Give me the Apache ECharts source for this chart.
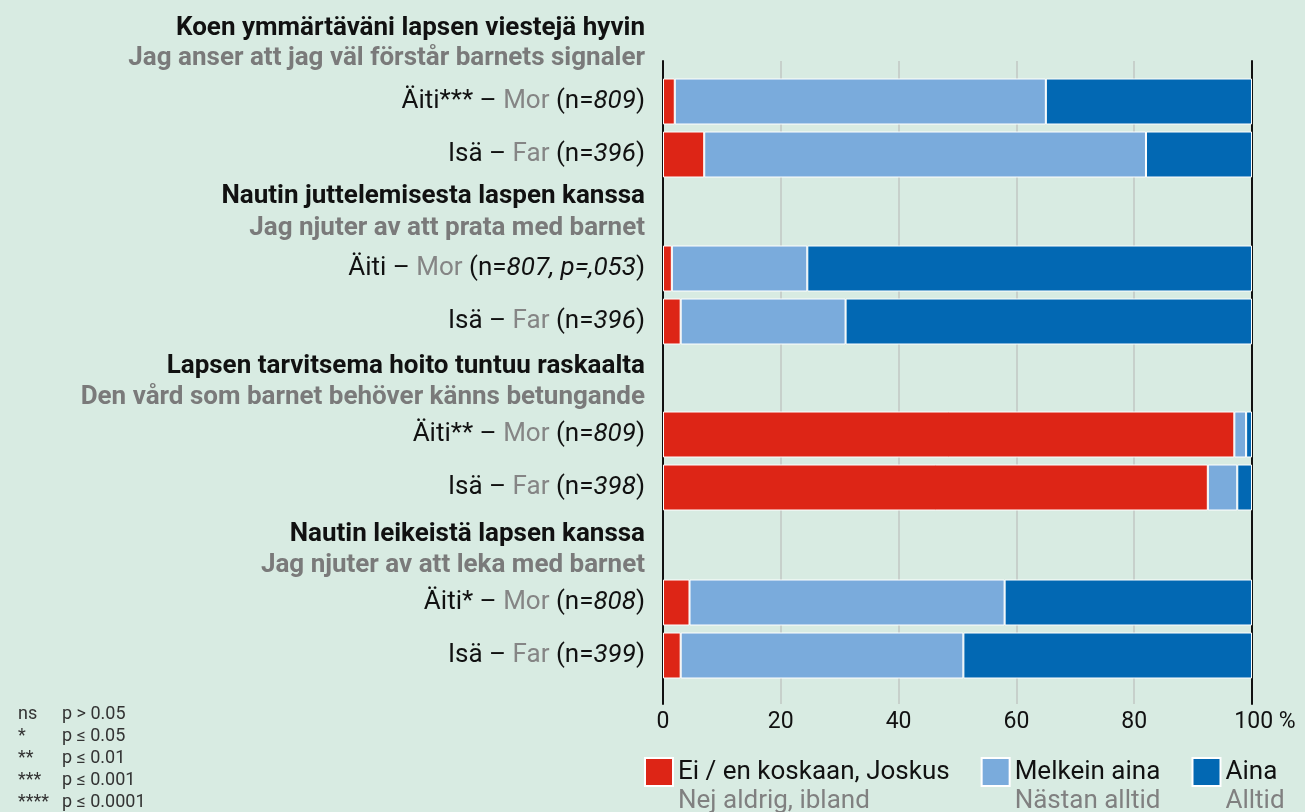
<!DOCTYPE html>
<html>
<head>
<meta charset="utf-8">
<script src="https://cdn.jsdelivr.net/npm/echarts@6/dist/echarts.min.js"></script>
<style>
  html, body { margin: 0; padding: 0; background: #d8ebe2; }
  #chart { width: 1305px; height: 812px; }
</style>
</head>
<body>
<div id="chart"></div>
<script>
const groupTitlesFi = [
  "Koen ymmärtäväni lapsen viestejä hyvin",
  "Nautin juttelemisesta laspen kanssa",
  "Lapsen tarvitsema hoito tuntuu raskaalta",
  "Nautin leikeistä lapsen kanssa"
];
const groupTitlesSv = [
  "Jag anser att jag väl förstår barnets signaler",
  "Jag njuter av att prata med barnet",
  "Den vård som barnet behöver känns betungande",
  "Jag njuter av att leka med barnet"
];
const rowParentFi = ["Äiti***", "Isä", "Äiti", "Isä", "Äiti**", "Isä", "Äiti*", "Isä"];
const rowParentSv = ["Mor", "Far", "Mor", "Far", "Mor", "Far", "Mor", "Far"];
const rowN = ["809", "396", "807, p=,053", "396", "809", "398", "808", "399"];

const seriesNames = ["Ei / en koskaan, Joskus", "Melkein aina", "Aina"];
const seriesNamesSv = ["Nej aldrig, ibland", "Nästan alltid", "Alltid"];
const neverSometimes = [2, 7, 1.5, 3, 97, 92.5, 4.5, 3];
const almostAlways = [63, 75, 23, 28, 2, 5, 53.5, 48];
const always = [35, 18, 75.5, 69, 1, 2.5, 42, 49];
const seriesValues = [neverSometimes, almostAlways, always];
const seriesColors = ["#dd2516", "#7aabdc", "#0268b3"];

const sigSymbols = ["ns", "*", "**", "***", "****"];
const sigLabels = ["p > 0.05", "p ≤ 0.05", "p ≤ 0.01", "p ≤ 0.001", "p ≤ 0.0001"];

const FONT = "Roboto, 'Noto Sans', sans-serif";
const plotLeft = 663;
const plotRight = 53;
const groupTops = [75, 242, 408, 576];
const groupHeight = 106;
const titleY = [[28, 58], [196, 228], [366, 397], [534, 565]];

const chart = echarts.init(document.getElementById("chart"));

const grids = [{ left: plotLeft, right: plotRight, top: 61, bottom: 108 }];
const xAxes = [{
  type: "value",
  gridIndex: 0,
  min: 0,
  max: 100,
  interval: 20,
  axisLine: { show: false },
  axisTick: { show: false },
  splitLine: {
    show: true,
    lineStyle: {
      color: ["rgba(0,0,0,0)", "#c2c7c3", "#c2c7c3", "#c2c7c3", "#c2c7c3", "rgba(0,0,0,0)"],
      width: 1.5
    }
  },
  axisLabel: {
    color: "#111",
    fontFamily: FONT,
    fontSize: 23,
    margin: 7,
    formatter: (value) => (value === 100 ? "{pad|}100 %" : String(value)),
    rich: { pad: { width: 26 } }
  }
}];
const yAxes = [
  {
    type: "value",
    gridIndex: 0,
    position: "left",
    axisLine: { show: true, lineStyle: { color: "#111", width: 2 } },
    axisTick: { show: false },
    axisLabel: { show: false },
    splitLine: { show: false }
  },
  {
    type: "value",
    gridIndex: 0,
    position: "right",
    axisLine: { show: true, lineStyle: { color: "#111", width: 2 } },
    axisTick: { show: false },
    axisLabel: { show: false },
    splitLine: { show: false }
  }
];
const series = [];

groupTops.forEach((top, g) => {
  const gridIndex = g + 1;
  const rows = [2 * g, 2 * g + 1];
  grids.push({ left: plotLeft, right: plotRight, top: top, height: groupHeight });
  xAxes.push({ type: "value", gridIndex, min: 0, max: 100, show: false });
  yAxes.push({
    type: "category",
    gridIndex,
    inverse: true,
    data: rows.map((r) => rowParentFi[r]),
    axisLine: { show: false },
    axisTick: { show: false },
    axisLabel: {
      margin: 18,
      formatter: (value, index) => {
        const r = rows[index];
        return `{k|${rowParentFi[r]} – }{s|${rowParentSv[r]}}{k| (n=}{i|${rowN[r]}}{k|)}`;
      },
      rich: {
        k: { color: "#111", fontFamily: FONT, fontSize: 26 },
        s: { color: "#858585", fontFamily: FONT, fontSize: 26 },
        i: { color: "#111", fontFamily: FONT, fontSize: 26, fontStyle: "italic" }
      }
    }
  });
  seriesNames.forEach((name, s) => {
    series.push({
      name,
      type: "bar",
      stack: "g" + g,
      xAxisIndex: gridIndex,
      yAxisIndex: gridIndex + 1,
      barWidth: 46,
      data: rows.map((r) => seriesValues[s][r]),
      itemStyle: { color: seriesColors[s], borderColor: "#ffffff", borderWidth: 1 },
      emphasis: { disabled: true }
    });
  });
});

const graphics = [];
groupTitlesFi.forEach((t, g) => {
  graphics.push({
    type: "text",
    x: 645,
    y: titleY[g][0],
    style: {
      text: t, fill: "#111", fontFamily: FONT, fontSize: 26, fontWeight: "bold",
      textAlign: "right", textVerticalAlign: "middle", align: "right", verticalAlign: "middle"
    }
  });
  graphics.push({
    type: "text",
    x: 645,
    y: titleY[g][1],
    style: {
      text: groupTitlesSv[g], fill: "#7a7a7a", fontFamily: FONT, fontSize: 26, fontWeight: "bold",
      textAlign: "right", textVerticalAlign: "middle", align: "right", verticalAlign: "middle"
    }
  });
});
sigSymbols.forEach((sym, i) => {
  const y = 714 + i * 22;
  graphics.push({
    type: "text", x: 18, y,
    style: { text: sym, fill: "#333", fontFamily: FONT, fontSize: 18, textVerticalAlign: "middle", verticalAlign: "middle" }
  });
  graphics.push({
    type: "text", x: 62, y,
    style: { text: sigLabels[i], fill: "#333", fontFamily: FONT, fontSize: 18, textVerticalAlign: "middle", verticalAlign: "middle" }
  });
});

chart.setOption({
  backgroundColor: "#d8ebe2",
  animation: false,
  grid: grids,
  xAxis: xAxes,
  yAxis: yAxes,
  legend: {
    left: 639,
    top: 725,
    itemWidth: 28,
    itemHeight: 28,
    itemGap: 31,
    icon: "rect",
    selectedMode: false,
    data: seriesNames,
    formatter: (name) => {
      const i = seriesNames.indexOf(name);
      return `{e| }\n{a|${name}}\n{b|${seriesNamesSv[i]}}`;
    },
    textStyle: {
      rich: {
        e: { fontSize: 26, lineHeight: 29, fontFamily: FONT },
        a: { color: "#111", fontSize: 26, lineHeight: 29, fontFamily: FONT },
        b: { color: "#808080", fontSize: 26, lineHeight: 29, fontFamily: FONT }
      }
    }
  },
  graphic: graphics,
  series
});
</script>
</body>
</html>
